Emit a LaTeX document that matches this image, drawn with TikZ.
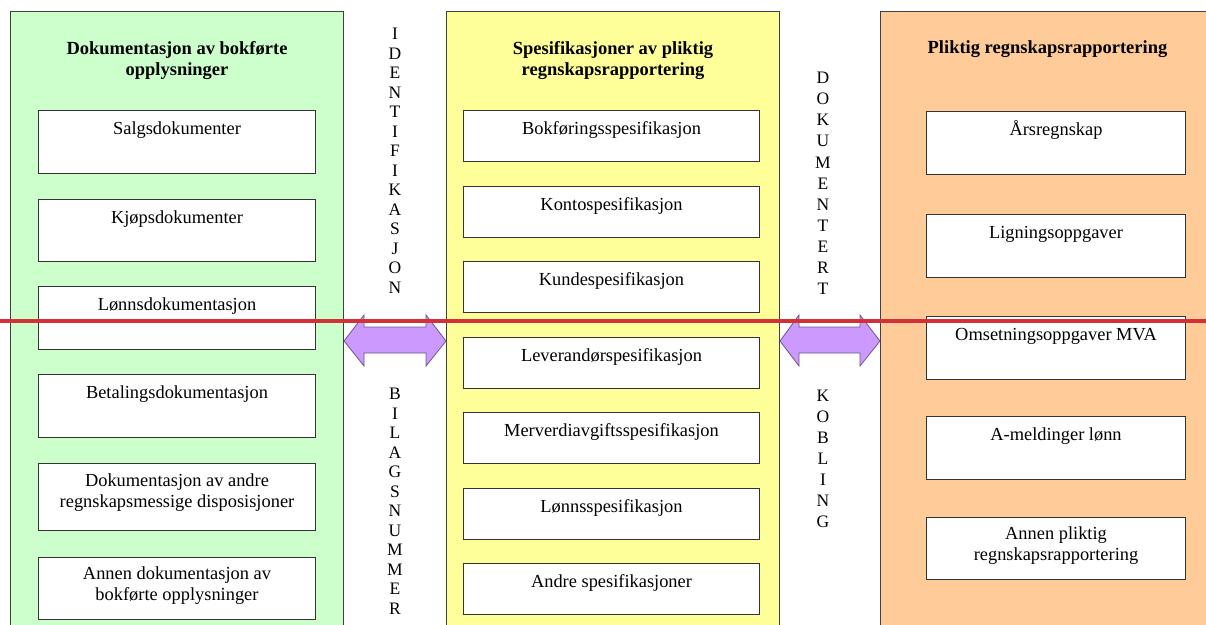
\documentclass[tikz,border=0pt]{standalone}
\usepackage{fontspec}
\setmainfont{Liberation Serif}
\usetikzlibrary{positioning,calc}
\definecolor{gronn}{RGB}{204,255,204}
\definecolor{gul}{RGB}{255,255,153}
\definecolor{oransje}{RGB}{255,204,153}
\definecolor{lilla}{RGB}{204,153,255}
\definecolor{lillakant}{RGB}{110,85,140}
\definecolor{rod}{RGB}{210,50,55}
\tikzset{
  kolonne/.style={draw=black!75, line width=1pt, anchor=north west, minimum width=333pt, minimum height=620pt, inner sep=0pt},
  boks/.style={draw=black!80, fill=white, line width=1pt, anchor=north west, inner sep=0pt},
  venstre/.style={boks, minimum width=277pt},
  midt/.style={boks, minimum width=296pt, minimum height=51pt},
  hoyre/.style={boks, minimum width=259pt, minimum height=63pt},
  tittel/.style={font=\fontsize{18.5}{21}\selectfont\bfseries, align=center, inner sep=0pt},
  bokstekst/.style={font=\fontsize{18.4}{21.5}\selectfont, align=center, inner sep=0pt},
  loddrett/.style={font=\fontsize{17.5}{19.5}\selectfont, align=center, inner sep=0pt, anchor=north},
  pil/.style={draw=lillakant, fill=lilla, line width=0.8pt, line join=miter},
  rodlinje/.style={draw=rod, line width=4pt}
}
\begin{document}
\begin{tikzpicture}[x=1pt, y=-1pt]
    \useasboundingbox (0,0) rectangle (1206,624);
    \clip (0,0) rectangle (1206,624);
    % kolonner
    \node[kolonne, fill=gronn] (dok) at (10,11) {};
    \node[kolonne, fill=gul] (spes) at (446,11) {};
    \node[kolonne, fill=oransje, minimum width=340pt] (rapp) at (880,11) {};
    \node[tittel, below=29pt of dok.north] (dokT) {\strut Dokumentasjon av bokførte\\opplysninger};
    \node[tittel, below=29pt of spes.north] (spesT) {\strut Spesifikasjoner av pliktig\\regnskapsrapportering};
    \node[tittel, below=28pt of rapp.north, xshift=-3pt] (rappT) {\strut Pliktig regnskapsrapportering};
    % venstre
    \node[venstre, minimum height=63pt] (salg) at (38,110) {};
    \node[bokstekst, below=9pt of salg.north] (salgT) {\strut Salgsdokumenter};
    \node[venstre, minimum height=62pt] (kjop) at (38,199) {};
    \node[bokstekst, below=9pt of kjop.north] (kjopT) {\strut Kjøpsdokumenter};
    \node[venstre, minimum height=63pt] (lonn) at (38,286) {};
    \node[bokstekst, below=9pt of lonn.north] (lonnT) {\strut Lønnsdokumentasjon};
    \node[venstre, minimum height=63pt] (betal) at (38,374) {};
    \node[bokstekst, below=9pt of betal.north] (betalT) {\strut Betalingsdokumentasjon};
    \node[venstre, minimum height=67pt] (disp) at (38,463) {};
    \node[bokstekst, below=8pt of disp.north] (dispT) {\strut Dokumentasjon av andre\\regnskapsmessige disposisjoner};
    \node[venstre, minimum height=62pt] (annen) at (38,557) {};
    \node[bokstekst, below=7pt of annen.north] (annenT) {\strut Annen dokumentasjon av\\bokførte opplysninger};
    % midten
    \node[midt] (bokf) at (463,110) {};
    \node[bokstekst, below=9pt of bokf.north] (bokfT) {\strut Bokføringsspesifikasjon};
    \node[midt] (konto) at (463,186) {};
    \node[bokstekst, below=9pt of konto.north] (kontoT) {\strut Kontospesifikasjon};
    \node[midt] (kunde) at (463,261) {};
    \node[bokstekst, below=9pt of kunde.north] (kundeT) {\strut Kundespesifikasjon};
    \node[midt] (lev) at (463,337) {};
    \node[bokstekst, below=9pt of lev.north] (levT) {\strut Leverandørspesifikasjon};
    \node[midt] (mva) at (463,412) {};
    \node[bokstekst, below=9pt of mva.north] (mvaT) {\strut Merverdiavgiftsspesifikasjon};
    \node[midt] (lonns) at (463,488) {};
    \node[bokstekst, below=9pt of lonns.north] (lonnsT) {\strut Lønnsspesifikasjon};
    \node[midt] (andre) at (463,563) {};
    \node[bokstekst, below=9pt of andre.north] (andreT) {\strut Andre spesifikasjoner};
    % hoyre
    \node[hoyre] (aars) at (926,111) {};
    \node[bokstekst, below=9pt of aars.north] (aarsT) {\strut Årsregnskap};
    \node[hoyre] (lign) at (926,214) {};
    \node[bokstekst, below=9pt of lign.north] (lignT) {\strut Ligningsoppgaver};
    \node[hoyre] (oms) at (926,316) {};
    \node[bokstekst, below=9pt of oms.north] (omsT) {\strut Omsetningsoppgaver MVA};
    \node[hoyre] (amel) at (926,416) {};
    \node[bokstekst, below=9pt of amel.north] (amelT) {\strut A-meldinger lønn};
    \node[hoyre, minimum height=62pt] (plikt) at (926,517) {};
    \node[bokstekst, below=7pt of plikt.north] (pliktT) {\strut Annen pliktig\\regnskapsrapportering};
    % loddrett tekst
    \node[loddrett] (ident) at (395,28) {I\\D\\E\\N\\T\\I\\F\\I\\K\\A\\S\\J\\O\\N};
    \node[loddrett] (bilag) at (395,388) {B\\I\\L\\A\\G\\S\\N\\U\\M\\M\\E\\R};
    \node[loddrett, font=\fontsize{17.5}{21.1}\selectfont] (dokum) at (823,72) {D\\O\\K\\U\\M\\E\\N\\T\\E\\R\\T};
    \node[loddrett, font=\fontsize{17.5}{21}\selectfont] (kobl) at (823,390) {K\\O\\B\\L\\I\\N\\G};
    % piler
    \coordinate (p1) at (dok.east |- 0,341);
    \coordinate (p2) at (spes.west |- 0,341);
    \coordinate (p3) at (spes.east |- 0,341);
    \coordinate (p4) at (rapp.west |- 0,341);
    \draw[pil] (p1) -- ++(20,-26) -- ++(0,12) -- ($(p2)+(-20,-14)$) -- ++(0,-12) -- (p2) -- ++(-20,25) -- ++(0,-13) -- ($(p1)+(20,12)$) -- ++(0,13) -- cycle;
    \draw[pil] (p3) -- ++(19,-26) -- ++(0,12) -- ($(p4)+(-20,-14)$) -- ++(0,-12) -- (p4) -- ++(-20,25) -- ++(0,-13) -- ($(p3)+(19,12)$) -- ++(0,13) -- cycle;
    \draw[rodlinje] (0,320.5) -- (1206,320.5);
\end{tikzpicture}
\end{document}
